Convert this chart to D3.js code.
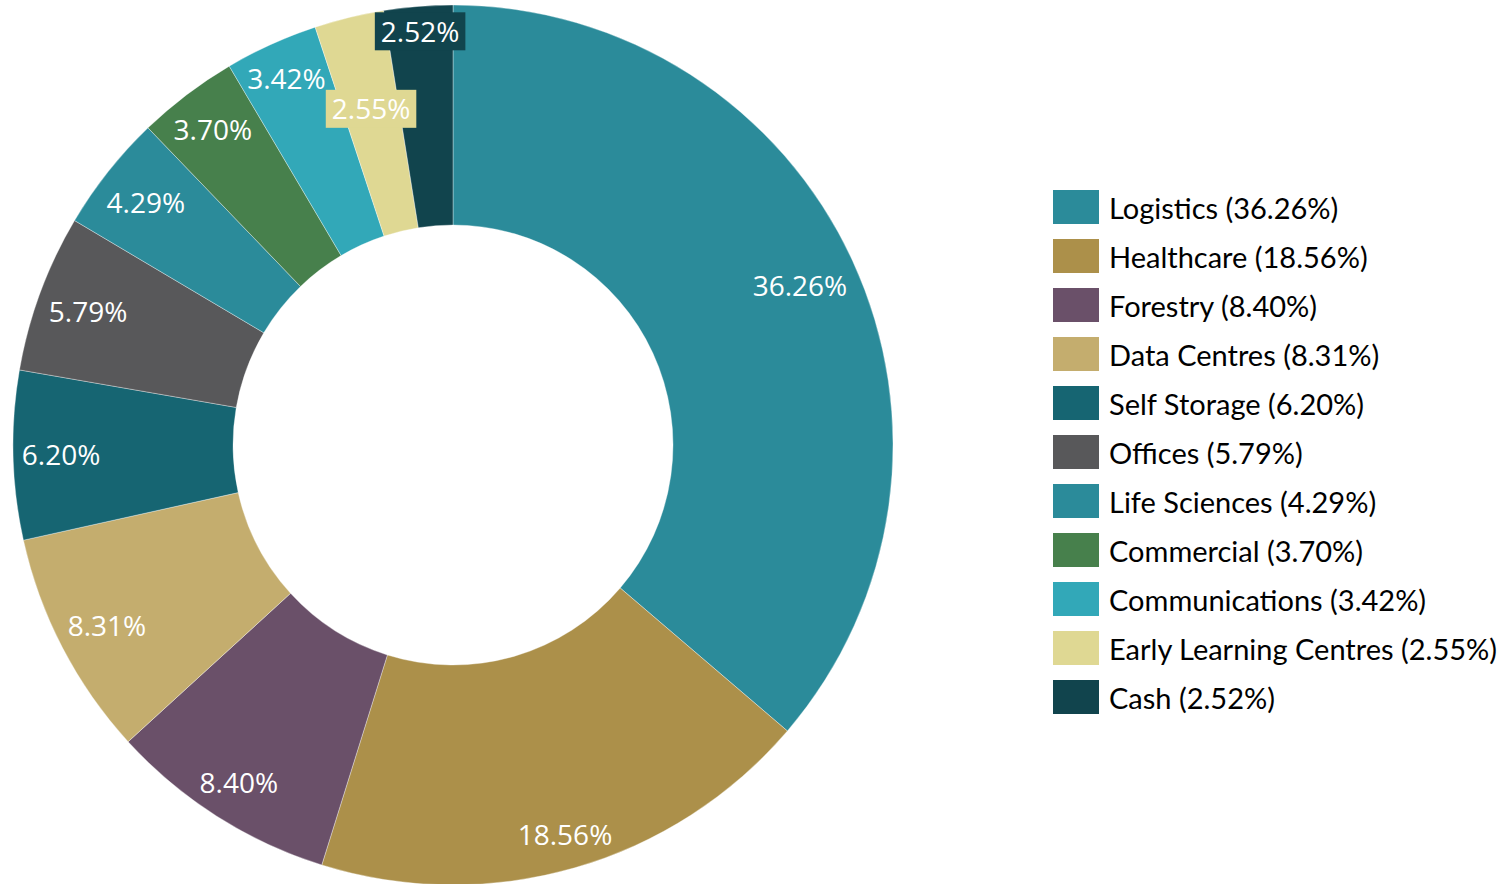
<!DOCTYPE html>
<html>
<head>
<meta charset="utf-8">
<script src="https://cdn.jsdelivr.net/npm/d3@7"></script>
<style>
  body { margin: 0; background: #fff; }
  svg { display: block; }
</style>
</head>
<body>
<div id="chart"></div>
<script>
const categories = ["Logistics", "Healthcare", "Forestry", "Data Centres", "Self Storage", "Offices",
  "Life Sciences", "Commercial", "Communications", "Early Learning Centres", "Cash"];
const values = [36.26, 18.56, 8.40, 8.31, 6.20, 5.79, 4.29, 3.70, 3.42, 2.55, 2.52];
const colors = ["#2B8B9A", "#AC904A", "#6A5069", "#C4AD6E", "#166572", "#58585A",
  "#2B8B9A", "#47804C", "#32A8B8", "#DFD893", "#11444D"];

const width = 1510, height = 884;
const cx = 453, cy = 445;
const outerR = 440, innerR = 220;

const svg = d3.select("#chart").append("svg")
    .attr("width", width)
    .attr("height", height);

const pie = d3.pie().sort(null).value(d => d);
const arcs = pie(values);
const arc = d3.arc().innerRadius(innerR).outerRadius(outerR);

const donut = svg.append("g")
    .attr("transform", `translate(${cx},${cy})`);

donut.selectAll("path.slice")
    .data(arcs)
    .enter().append("path")
    .attr("class", "slice")
    .attr("d", arc)
    .attr("fill", (d, i) => colors[i])
    .attr("stroke", "#ffffff")
    .attr("stroke-opacity", 0.5)
    .attr("stroke-width", 0.7);

// Data labels: "inside end", then the most crowded label is pushed inward
const labelFont = "'Open Sans', 'Noto Sans', sans-serif";
const halfH = 19, fitH = 16, fitPad = 6, hitPad = 3, textHalfH = 13;

const labelG = donut.append("g");
const labels = arcs.map((d, i) => {
    const g = labelG.append("g");
    const rect = g.append("rect").attr("fill", "none");
    const text = g.append("text")
        .attr("text-anchor", "middle")
        .attr("dy", "0.4em")
        .style("font-family", labelFont)
        .style("font-size", "28px")
        .attr("fill", "#ffffff")
        .text(values[i].toFixed(2) + "%");
    const tw = text.node().getComputedTextLength();
    return {g, rect, text, d, tw, a: (d.startAngle + d.endAngle) / 2};
});

function boxAt(l, r, pad, hh) {
    const x = Math.sin(l.a) * r, y = -Math.cos(l.a) * r;
    const hw = l.tw / 2 + pad;
    return {x, y, x0: x - hw, x1: x + hw, y0: y - hh, y1: y + hh};
}

function corners(b) {
    return [[b.x0, b.y0], [b.x1, b.y0], [b.x0, b.y1], [b.x1, b.y1]];
}

function overlaps(a, b) {
    return a.x0 < b.x1 && b.x0 < a.x1 && a.y0 < b.y1 && b.y0 < a.y1;
}

labels.forEach(l => {
    let r = outerR;
    while (r > innerR && d3.max(corners(boxAt(l, r, fitPad, fitH)), c => Math.hypot(c[0], c[1])) > outerR - 2) r -= 1;
    l.r = r;
});

const hitBox = l => boxAt(l, l.r, hitPad, halfH);
for (let iter = 0; iter < 50; iter++) {
    const counts = labels.map(l => labels.filter(o => o !== l && overlaps(hitBox(l), hitBox(o))).length);
    const worst = d3.maxIndex(counts);
    if (counts[worst] === 0) break;
    const l = labels[worst];
    while (l.r > innerR && labels.some(o => o !== l && overlaps(hitBox(l), hitBox(o)))) l.r -= 1;
}

// a label gets a fill when its text leaves its own slice
function outsideWedge(l) {
    const b = boxAt(l, l.r, 0, textHalfH);
    return corners(b).some(([x, y]) => {
        let ang = Math.atan2(x, -y);
        if (ang < 0) ang += 2 * Math.PI;
        const dist = Math.hypot(x, y);
        return ang < l.d.startAngle || ang > l.d.endAngle || dist > outerR || dist < innerR;
    });
}

labels.forEach((l, i) => {
    const b = boxAt(l, l.r, fitPad, halfH);
    l.text.attr("x", b.x).attr("y", b.y);
    if (outsideWedge(l)) {
        l.rect.attr("x", b.x0).attr("y", b.y0 + 1)
            .attr("width", b.x1 - b.x0)
            .attr("height", b.y1 - b.y0)
            .attr("fill", colors[i]);
    }
});

// Legend
const legend = svg.append("g")
    .attr("transform", "translate(1053,190)");

const rows = legend.selectAll("g.row")
    .data(categories)
    .enter().append("g")
    .attr("class", "row")
    .attr("transform", (d, i) => `translate(0,${i * 49})`);

rows.append("rect")
    .attr("width", 46)
    .attr("height", 34)
    .attr("fill", (d, i) => colors[i]);

rows.append("text")
    .attr("x", 56)
    .attr("y", 29)
    .style("font-family", "Lato, 'Open Sans', sans-serif")
    .style("font-size", "29px")
    .attr("fill", "#000000")
    .text((d, i) => `${d} (${values[i].toFixed(2)}%)`);
</script>
</body>
</html>
